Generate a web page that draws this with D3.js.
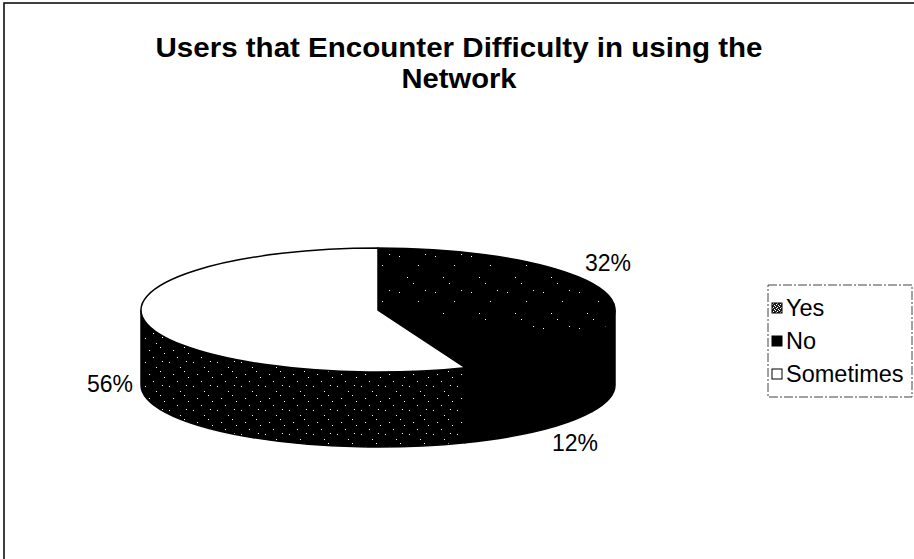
<!DOCTYPE html>
<html>
<head>
<meta charset="utf-8">
<script src="https://cdn.jsdelivr.net/npm/d3@7/dist/d3.min.js"></script>
<style>
  html, body { margin: 0; padding: 0; background: #fff; }
  svg { display: block; }
  text { font-family: "Liberation Sans", Arial, sans-serif; fill: #000; }
</style>
</head>
<body>
<svg id="chart" width="914" height="559"></svg>
<script>
// Survey answers and their shares (percent)
const categories = ["Yes", "No", "Sometimes"];
const values = [32, 12, 56];
const titleLines = ["Users that Encounter Difficulty in using the", "Network"];

const svg = d3.select("#chart");
const W = 914, H = 559;

// Textures: sparse speckles on black, like a monochrome print
const defs = svg.append("defs");
function speckle(id, base, dots, size) {
  const p = defs.append("pattern")
    .attr("id", id).attr("patternUnits", "userSpaceOnUse")
    .attr("width", size).attr("height", size);
  p.append("rect").attr("width", size).attr("height", size).attr("fill", base);
  dots.forEach(([x, y]) => p.append("rect")
    .attr("x", x).attr("y", y).attr("width", 1).attr("height", 1).attr("fill", "#fff"));
}
speckle("topSpeckle", "#000", [[3, 4], [22, 13], [11, 25], [29, 2], [17, 31]], 36);
speckle("sideSpeckle", "#000", [[1, 2], [12, 7], [5, 14], [18, 1], [20, 17], [9, 21], [16, 11]], 24);
speckle("swatchDither", "#222", [[0, 0], [2, 1], [1, 3], [3, 2]], 4);

const topFill = { Yes: "url(#topSpeckle)", No: "#000", Sometimes: "#fff" };
const sideFill = { Yes: "#000", No: "#000", Sometimes: "url(#sideSpeckle)" };
const swatchFill = { Yes: "url(#swatchDither)", No: "#000", Sometimes: "#fff" };

// Chart frame
svg.append("rect").attr("x", 4).attr("y", 3).attr("width", W + 10).attr("height", H + 10)
  .attr("fill", "none").attr("stroke", "#000").attr("stroke-width", 1.5);

// Title, two centred lines
const titleWidths = [607, 115];
svg.selectAll("text.title").data(titleLines).join("text")
  .attr("class", "title")
  .attr("x", 459).attr("y", (d, i) => 57 + i * 31)
  .attr("text-anchor", "middle")
  .attr("textLength", (d, i) => titleWidths[i])
  .attr("lengthAdjust", "spacingAndGlyphs")
  .style("font-size", "27px").style("font-weight", "bold")
  .text(d => d);

// 3D pie geometry
const cx = 378, cy = 310, rx = 237, ry = 62, depth = 75;
const pie = d3.pie().sort(null).value(d => d.value);
const arcs = pie(categories.map((c, i) => ({ name: c, value: values[i] })));

const pt = (a, dy = 0) => [cx + rx * Math.sin(a), cy - ry * Math.cos(a) + dy];

function topPath(d) {
  const [x0, y0] = pt(d.startAngle), [x1, y1] = pt(d.endAngle);
  const large = d.endAngle - d.startAngle > Math.PI ? 1 : 0;
  return `M${cx},${cy}L${x0},${y0}A${rx},${ry} 0 ${large} 1 ${x1},${y1}Z`;
}

function sidePath(d) {
  const s = Math.max(d.startAngle, Math.PI / 2);
  const e = Math.min(d.endAngle, 3 * Math.PI / 2);
  if (e <= s) return null;
  const [x0, y0] = pt(s), [x1, y1] = pt(e);
  const [x2, y2] = pt(e, depth), [x3, y3] = pt(s, depth);
  const large = e - s > Math.PI ? 1 : 0;
  return `M${x0},${y0}A${rx},${ry} 0 ${large} 1 ${x1},${y1}L${x2},${y2}` +
         `A${rx},${ry} 0 ${large} 0 ${x3},${y3}Z`;
}

const g = svg.append("g");
g.selectAll("path.side").data(arcs.filter(d => sidePath(d))).join("path")
  .attr("class", "side")
  .attr("d", sidePath)
  .attr("fill", d => sideFill[d.data.name])
  .attr("stroke", "#000").attr("stroke-width", 1.5);

g.selectAll("path.top").data(arcs).join("path")
  .attr("class", "top")
  .attr("d", topPath)
  .attr("fill", d => topFill[d.data.name])
  .attr("stroke", "#000").attr("stroke-width", 1.5)
  .attr("stroke-linejoin", "round");

// Percentage labels
const labelPos = { Yes: [608, 271], No: [575, 451], Sometimes: [110, 392] };
svg.selectAll("text.pct").data(arcs).join("text")
  .attr("class", "pct")
  .attr("x", d => labelPos[d.data.name][0])
  .attr("y", d => labelPos[d.data.name][1])
  .attr("text-anchor", "middle")
  .style("font-size", "23px")
  .text(d => `${d.data.value}%`);

// Legend
const legend = svg.append("g");
legend.append("rect")
  .attr("x", 768).attr("y", 285).attr("width", 144).attr("height", 112)
  .attr("fill", "#fff").attr("stroke", "#444").attr("stroke-width", 1)
  .attr("stroke-dasharray", "9,2,2,2");
const rows = legend.selectAll("g.row").data(categories).join("g")
  .attr("class", "row")
  .attr("transform", (d, i) => `translate(772,${308 + i * 33})`);
rows.append("rect")
  .attr("x", 0).attr("y", -5).attr("width", 10).attr("height", 10)
  .attr("fill", d => swatchFill[d]).attr("stroke", "#000").attr("stroke-width", 1);
rows.append("text")
  .attr("x", 14).attr("y", 8)
  .style("font-size", "23.5px")
  .text(d => d);
</script>
</body>
</html>
